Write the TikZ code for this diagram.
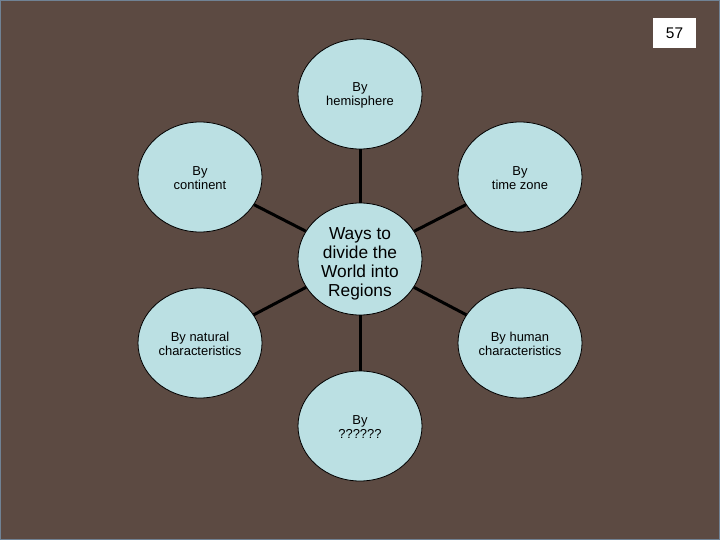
\documentclass[tikz,border=0pt]{standalone}
\usepackage{fontspec}
\setmainfont{Liberation Sans}
\usepackage{tikz}
\usetikzlibrary{shapes.geometric}
\definecolor{regionbrown}{RGB}{92,74,66}
\definecolor{regionblue}{RGB}{187,224,227}
\definecolor{regionframe}{RGB}{112,130,148}

\begin{document}
\begin{tikzpicture}[x=1bp,y=-1bp,
  bubble/.style={ellipse,draw=black,line width=0.8bp,fill=regionblue,minimum width=124bp,minimum height=110bp,inner sep=0pt,align=center,font=\fontsize{13}{14}\selectfont,text height=25.5bp},
  hub/.style={bubble,minimum height=112bp,font=\fontsize{17.4}{19}\selectfont,text height=74bp,text depth=0pt},
  spoke/.style={line width=3bp,black}]
  \useasboundingbox (0,0) rectangle (720,540);
  \fill[regionbrown] (0,0) rectangle (720,540);
  \draw[regionframe,line width=2bp] (0,0) rectangle (720,540);
  \coordinate (C) at (360,259);
  \coordinate (T) at (360,94); \coordinate (B) at (360,426);
  \coordinate (TL) at (200,177); \coordinate (TR) at (520,177);
  \coordinate (BL) at (200,343); \coordinate (BR) at (520,343);
  \node[bubble] (hemi) at (T) {By\\hemisphere};
  \node[bubble] (cont) at (TL) {By\\continent};
  \node[bubble] (zone) at (TR) {By\\time zone};
  \node[bubble] (natural) at (BL) {By natural\\characteristics};
  \node[bubble] (human) at (BR) {By human\\characteristics};
  \node[bubble] (unknown) at (B) {By\\??????};
  \node[hub] (ways) at (C) {Ways to\\divide the\\World into\\Regions};
  \draw[spoke] (ways) -- (hemi); \draw[spoke] (ways) -- (unknown);
  \draw[spoke] (ways) -- (cont); \draw[spoke] (ways) -- (zone);
  \draw[spoke] (ways) -- (natural); \draw[spoke] (ways) -- (human);
  \node[fill=white,minimum width=43bp,minimum height=30bp,inner sep=0pt,font=\fontsize{15.5}{17}\selectfont] (page) at (674.5,33) {57};
\end{tikzpicture}
\end{document}
